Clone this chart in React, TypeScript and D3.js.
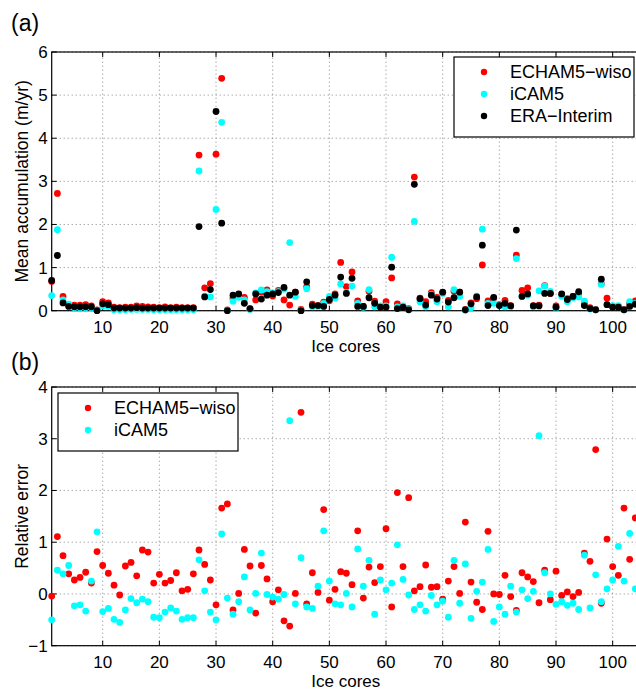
import React from "react";
import * as d3 from "d3";

// Panel (a): mean accumulation (m/yr)
const echamAcc = [
  0.68, 2.72, 0.33, 0.12, 0.13, 0.13, 0.14, 0.11, 0.02, 0.21,
  0.18, 0.08, 0.07, 0.08, 0.08, 0.11, 0.10, 0.09, 0.08, 0.07,
  0.09, 0.07, 0.08, 0.07, 0.07, 0.07, 3.61, 0.53, 0.63, 3.63,
  5.39, 0.02, 0.29, 0.37, 0.31, 0.04, 0.25, 0.43, 0.48, 0.34,
  0.47, 0.25, 0.13, 0.43, 0.03, 0.56, 0.15, 0.12, 0.20, 0.23,
  0.39, 1.12, 0.56, 0.90, 0.23, 0.10, 0.45, 0.22, 0.10, 0.21,
  0.76, 0.16, 0.10, 0.05, 3.10, 0.29, 0.21, 0.42, 0.31, 0.42,
  0.24, 0.45, 0.43, 0.03, 0.18, 0.28, 1.06, 0.23, 0.29, 0.14,
  0.24, 0.12, 1.29, 0.47, 0.53, 0.12, 0.13, 0.58, 0.40, 0.11,
  0.38, 0.28, 0.33, 0.40, 0.18, 0.07, 0.03, 0.63, 0.29, 0.10,
  0.10, 0.03, 0.17, 0.23,
];
const icamAcc = [
  0.35, 1.88, 0.25, 0.15, 0.07, 0.07, 0.07, 0.07, 0.01, 0.11,
  0.10, 0.02, 0.02, 0.02, 0.03, 0.03, 0.03, 0.03, 0.02, 0.02,
  0.02, 0.02, 0.02, 0.02, 0.02, 0.02, 3.24, 0.34, 0.32, 2.35,
  4.37, 0.01, 0.22, 0.31, 0.25, 0.03, 0.41, 0.48, 0.44, 0.41,
  0.44, 0.50, 1.58, 0.33, 0.01, 0.51, 0.09, 0.10, 0.17, 0.33,
  0.29, 0.62, 0.42, 0.57, 0.17, 0.08, 0.49, 0.09, 0.11, 0.11,
  1.24, 0.09, 0.11, 0.03, 2.07, 0.21, 0.09, 0.38, 0.21, 0.40,
  0.09, 0.49, 0.33, 0.01, 0.07, 0.34, 1.89, 0.17, 0.17, 0.12,
  0.09, 0.10, 1.21, 0.33, 0.36, 0.10, 0.46, 0.57, 0.45, 0.06,
  0.33, 0.21, 0.30, 0.32, 0.22, 0.04, 0.02, 0.61, 0.14, 0.12,
  0.12, 0.02, 0.21, 0.17,
];
const eraAcc = [
  0.70, 1.28, 0.18, 0.10, 0.09, 0.09, 0.09, 0.09, 0.00, 0.16,
  0.14, 0.06, 0.06, 0.06, 0.06, 0.07, 0.06, 0.06, 0.06, 0.06,
  0.06, 0.06, 0.06, 0.06, 0.06, 0.06, 1.95, 0.32, 0.49, 4.62,
  2.03, 0.00, 0.36, 0.39, 0.17, 0.05, 0.39, 0.27, 0.36, 0.39,
  0.42, 0.54, 0.36, 0.43, 0.00, 0.67, 0.12, 0.12, 0.10, 0.26,
  0.36, 0.78, 0.40, 0.75, 0.10, 0.10, 0.30, 0.17, 0.08, 0.08,
  1.01, 0.05, 0.08, 0.02, 2.93, 0.28, 0.13, 0.36, 0.27, 0.43,
  0.20, 0.30, 0.43, 0.02, 0.16, 0.32, 1.52, 0.12, 0.31, 0.12,
  0.17, 0.11, 1.87, 0.33, 0.39, 0.11, 0.11, 0.40, 0.40, 0.08,
  0.39, 0.26, 0.33, 0.44, 0.12, 0.05, 0.02, 0.73, 0.14, 0.08,
  0.08, 0.02, 0.10, 0.15,
];

// Panel (b): relative error
const echamErr = [
  -0.04, 1.11, 0.74, 0.39, 0.27, 0.32, 0.42, 0.21, 0.82, 0.55,
  0.40, 0.17, -0.02, 0.54, 0.61, 0.35, 0.85, 0.81, 0.21, 0.38,
  0.21, 0.26, 0.41, 0.06, 0.09, 0.39, 0.85, 0.57, 0.27, -0.21,
  1.66, 1.74, -0.31, 0.01, 0.86, 0.54, -0.37, 0.55, 0.29, -0.15,
  0.08, -0.52, -0.62, 0.01, 3.51, -0.19, 0.41, 0.03, 1.63, -0.12,
  0.09, 0.43, 0.40, 0.18, 1.22, -0.08, 0.52, 0.22, 0.53, 1.26,
  -0.25, 1.96, 0.53, 1.86, 0.06, 0.14, 0.56, 0.13, 0.14, -0.10,
  0.25, 0.53, 0.01, 1.39, 0.23, -0.16, -0.30, 1.21, 0.00, -0.01,
  0.36, -0.05, -0.32, 0.41, 0.33, 0.24, -0.17, 0.46, -0.11, 0.44,
  -0.03, 0.04, -0.05, 0.03, 0.79, 0.63, 2.79, -0.18, 1.06, 0.53,
  0.36, 1.66, 0.67, 1.47,
];
const icamErr = [
  -0.50, 0.46, 0.39, 0.55, -0.23, -0.21, -0.33, 0.25, 1.20, -0.34,
  -0.28, -0.49, -0.55, -0.31, -0.09, -0.17, -0.10, -0.15, -0.45, -0.46,
  -0.35, -0.27, -0.33, -0.49, -0.46, -0.46, 0.66, 0.06, -0.35, -0.50,
  1.16, -0.08, -0.39, -0.15, 0.33, -0.31, 0.01, 0.79, -0.01, -0.06,
  -0.10, -0.01, 3.35, -0.19, 0.70, -0.25, -0.28, 0.15, 1.22, 0.25,
  -0.19, -0.21, 0.01, -0.25, 0.87, 0.15, 0.65, -0.39, 0.27, 0.08,
  0.21, 0.95, 0.28, -0.02, -0.30, -0.21, -0.33, -0.03, -0.21, -0.14,
  -0.45, 0.65, -0.18, 0.58, -0.47, 0.05, 0.23, 0.86, -0.53, -0.25,
  -0.39, 0.15, -0.35, 0.08, -0.09, 0.05, 3.06, 0.41, 0.00, -0.20,
  -0.15, -0.22, -0.18, -0.30, 0.75, -0.27, 0.37, -0.15, 0.10, 0.27,
  0.92, 0.25, 1.17, 0.10,
];

const xTicks = [10, 20, 30, 40, 50, 60, 70, 80, 90, 100];
const yTicksA = [0, 1, 2, 3, 4, 5, 6];
const yTicksB = [-1, 0, 1, 2, 3, 4];
const seriesNames = ["ECHAM5\u2212wiso", "iCAM5", "ERA\u2212Interim"];
const seriesColors = ["#ff0000", "#00ffff", "#000000"];

const FONT = "'Liberation Sans', Arial, Helvetica, sans-serif";
const W = 636;
const H = 690;

const x = d3.scaleLinear().domain([1, 105]).range([51.7, 641]);

type Series = { name: string; color: string; values: number[] };

function Panel(props: {
  y: d3.ScaleLinear<number, number>;
  yTicks: number[];
  series: Series[];
  letter: string;
  letterY: number;
  yLabel: string;
  legendX: number;
  legendY: number;
}) {
  const { y, yTicks, series, letter, letterY, yLabel, legendX, legendY } = props;
  const [y0, y1] = y.range(); // bottom, top
  const [xl, xr] = x.range();
  const fmt = d3.format("d");
  const legendW = 180;
  const legendH = 14 + series.length * 22;
  return (
    <g>
      <text x={11} y={letterY} fontSize={23} fontFamily={FONT}>
        {letter}
      </text>
      {/* grid */}
      {xTicks.map((t) => (
        <line
          key={"gx" + t}
          x1={x(t)}
          x2={x(t)}
          y1={y0}
          y2={y1}
          stroke="#666"
          strokeWidth={0.8}
          strokeDasharray="1 3"
        />
      ))}
      {yTicks.map((t) => (
        <line
          key={"gy" + t}
          x1={xl}
          x2={xr}
          y1={y(t)}
          y2={y(t)}
          stroke="#666"
          strokeWidth={0.8}
          strokeDasharray="1 3"
        />
      ))}
      {/* frame */}
      <rect x={xl} y={y1} width={xr - xl} height={y0 - y1} fill="none" stroke="#000" strokeWidth={1.2} />
      {/* ticks */}
      {xTicks.map((t) => (
        <g key={"tx" + t}>
          <line x1={x(t)} x2={x(t)} y1={y0} y2={y0 - 5} stroke="#000" strokeWidth={1} />
          <line x1={x(t)} x2={x(t)} y1={y1} y2={y1 + 5} stroke="#000" strokeWidth={1} />
          <text x={x(t)} y={y0 + 22} fontSize={17} fontFamily={FONT} textAnchor="middle">
            {fmt(t)}
          </text>
        </g>
      ))}
      {yTicks.map((t) => (
        <g key={"ty" + t}>
          <line x1={xl} x2={xl + 5} y1={y(t)} y2={y(t)} stroke="#000" strokeWidth={1} />
          <text x={xl - 4} y={y(t) + 6} fontSize={17} fontFamily={FONT} textAnchor="end">
            {fmt(t)}
          </text>
        </g>
      ))}
      <text x={(xl + 636) / 2 + 2} y={y0 + 41} fontSize={17} fontFamily={FONT} textAnchor="middle">
        Ice cores
      </text>
      <text
        transform={`translate(28,${(y0 + y1) / 2}) rotate(-90)`}
        fontSize={17.5}
        fontFamily={FONT}
        textAnchor="middle"
      >
        {yLabel}
      </text>
      {/* points */}
      {series.map((s) => (
        <g key={s.name}>
          {s.values.map((v, i) => (
            <circle key={i} cx={x(i + 1)} cy={y(v)} r={3.4} fill={s.color} />
          ))}
        </g>
      ))}
      {/* legend */}
      <rect x={legendX} y={legendY} width={legendW} height={legendH} fill="#fff" stroke="#000" strokeWidth={1.2} />
      {series.map((s, i) => (
        <g key={"lg" + s.name}>
          <circle cx={legendX + 30} cy={legendY + 15 + i * 22} r={3.2} fill={s.color} />
          <text x={legendX + 56} y={legendY + 21 + i * 22} fontSize={18} fontFamily={FONT}>
            {s.name}
          </text>
        </g>
      ))}
    </g>
  );
}

export default function App() {
  const yA = d3.scaleLinear().domain([0, 6]).range([310.7, 52]);
  const yB = d3.scaleLinear().domain([-1, 4]).range([645.7, 387]);
  const seriesA: Series[] = [
    { name: seriesNames[0], color: seriesColors[0], values: echamAcc },
    { name: seriesNames[1], color: seriesColors[1], values: icamAcc },
    { name: seriesNames[2], color: seriesColors[2], values: eraAcc },
  ];
  const seriesB: Series[] = [
    { name: seriesNames[0], color: seriesColors[0], values: echamErr },
    { name: seriesNames[1], color: seriesColors[1], values: icamErr },
  ];
  return (
    <svg
      width={W}
      height={H}
      viewBox={`0 0 ${W} ${H}`}
      style={{ position: "absolute", left: 0, top: 0, background: "#fff" }}
    >
      <rect x={0} y={0} width={W} height={H} fill="#fff" />
      <Panel
        y={yA}
        yTicks={yTicksA}
        series={seriesA}
        letter="(a)"
        letterY={31}
        yLabel="Mean accumulation (m/yr)"
        legendX={454}
        legendY={57}
      />
      <Panel
        y={yB}
        yTicks={yTicksB}
        series={seriesB}
        letter="(b)"
        letterY={370}
        yLabel="Relative error"
        legendX={58}
        legendY={393}
      />
    </svg>
  );
}
